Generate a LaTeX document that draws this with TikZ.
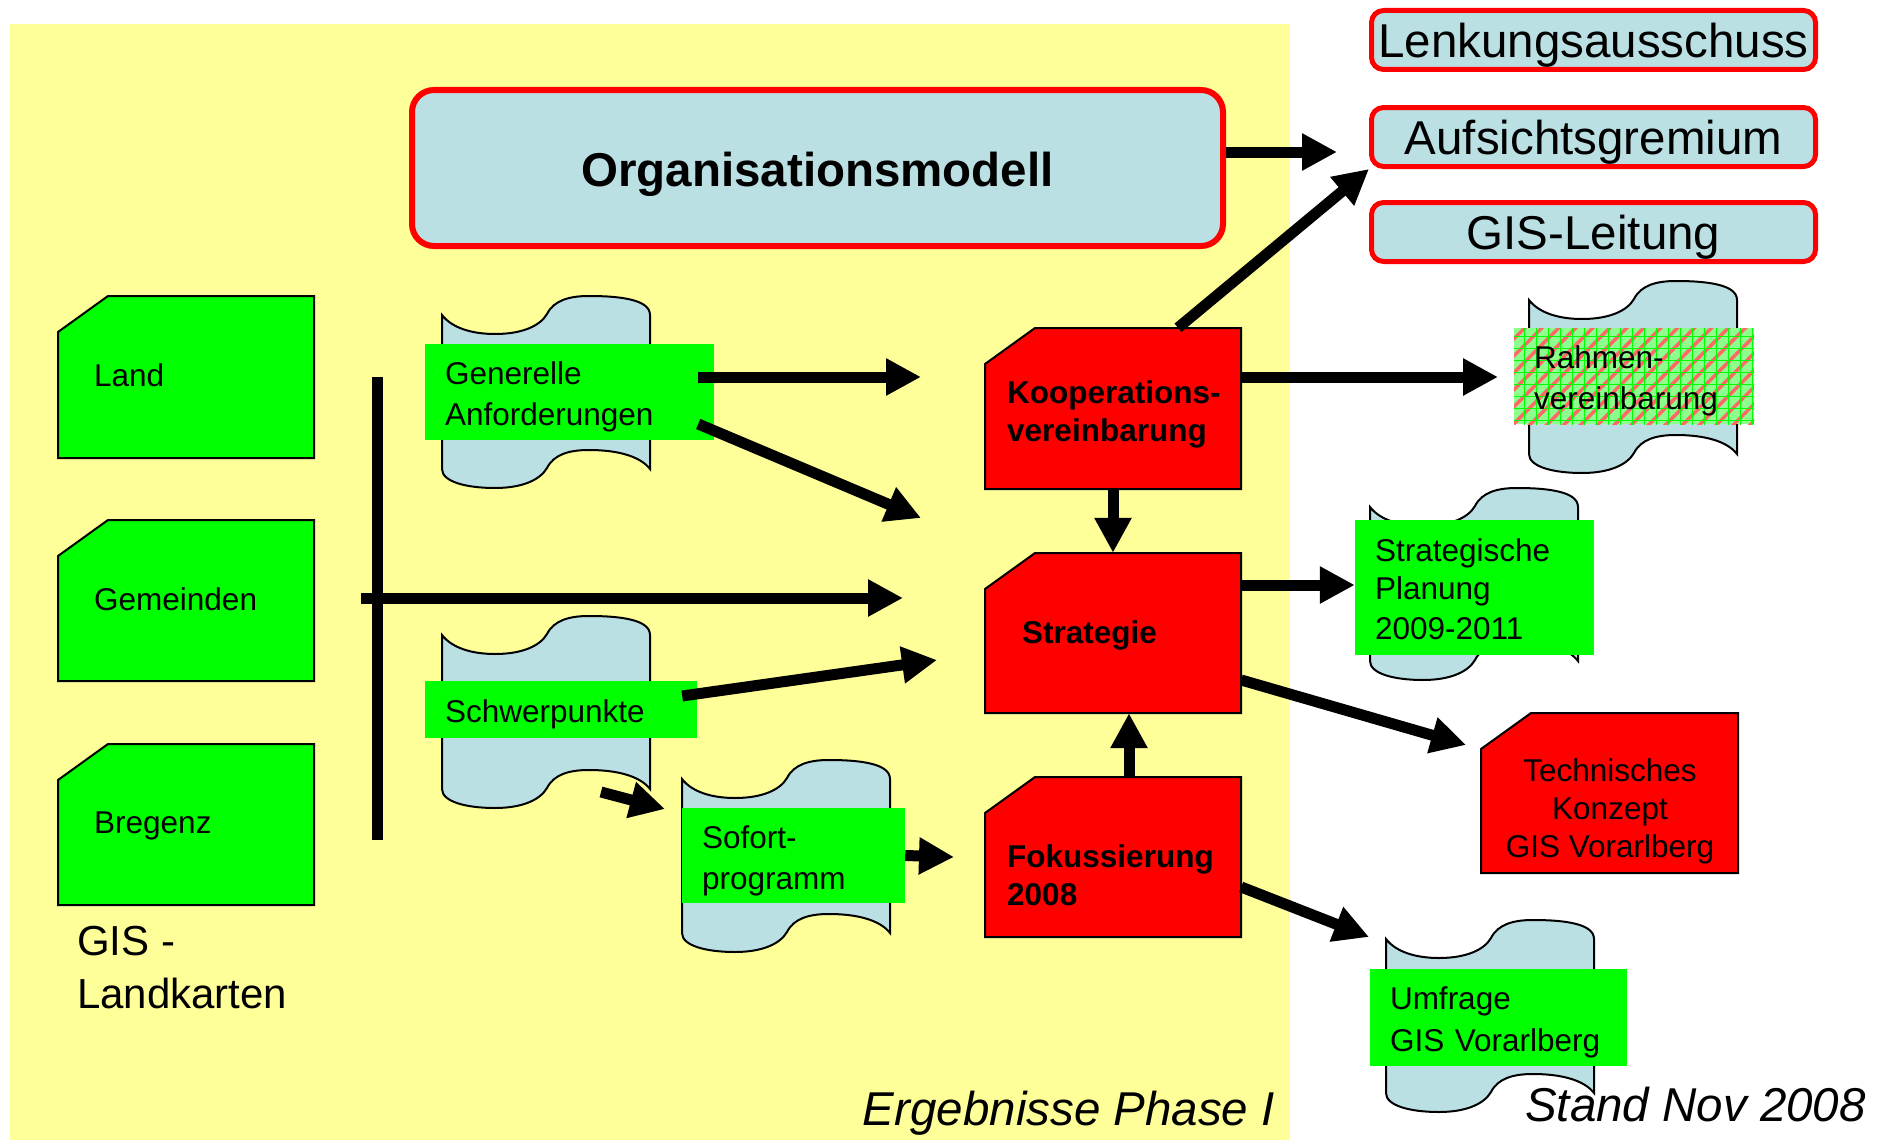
\documentclass[tikz,border=0pt]{standalone}
\usepackage{fontspec}
\setmainfont{Liberation Sans}
\usetikzlibrary{arrows.meta,calc,patterns.meta}

\definecolor{hellgelb}{RGB}{255,255,153}
\definecolor{hellblau}{RGB}{187,224,227}
\definecolor{gruen}{RGB}{0,255,0}
\definecolor{hellgruen}{RGB}{140,255,140}
\definecolor{rot}{RGB}{255,0,0}

\newcommand{\klein}{\fontsize{31.5}{38}\selectfont}
\newcommand{\gross}{\fontsize{47.5}{57}\selectfont}
%Stuetzen
\newcommand{\ps}{\rule[-6.6pt]{0pt}{39.6pt}}
\newcommand{\pg}{\rule{0pt}{44pt}}
%Ecke abgeschnitten
\newcommand{\ecke}[6]{\filldraw[fill=#6,draw=black,line width=2pt] (#2,#5) -- (#2,#3+36) -- (#2+50,#3) -- (#4,#3) -- (#4,#5) -- cycle;
  \node[inner sep=0pt,minimum width=#4-#2,minimum height=#5-#3] (#1) at ({(#2+#4)/2},{(#3+#5)/2}) {};}

\tikzset{
  pfeil/.style={line width=11pt,-{Triangle[length=35pt,width=35pt]}},
  gremium/.style={draw=rot,line width=5pt,fill=hellblau,rounded corners=12pt,inner sep=0pt,minimum width=444pt,minimum height=59pt,font=\gross},
  etikett/.style={fill=gruen,inner ysep=0pt,inner xsep=20pt,align=left,font=\klein},
  schrift/.style={anchor=north west,inner sep=0pt,align=left,font=\klein},
  band/.pic={\filldraw[fill=hellblau,draw=black,line width=2pt]
    (0,19) .. controls (10,32) and (30,38) .. (53,38)
    .. controls (80,38) and (98,30) .. (105,18)
    .. controls (112,4) and (128,0) .. (147,0)
    .. controls (180,0) and (208,4) .. (208,19) -- (208,173)
    .. controls (198,160) and (175,154) .. (147,154)
    .. controls (128,154) and (112,158) .. (105,172)
    .. controls (98,184) and (80,192) .. (53,192)
    .. controls (25,192) and (0,186) .. (0,173) -- cycle;}
}

\begin{document}
\begin{tikzpicture}[x=1pt,y=-1pt]
\useasboundingbox (0,0) rectangle (1888,1140);
%Hintergrund
\fill[white] (0,0) rectangle (1888,1140);
\fill[hellgelb] (10,24) rectangle (1290,1140);
%Baender
\pic at (442,296) {band};
\pic at (442,616) {band};
\pic at (682,760) {band};
\pic at (1529,281) {band};
\pic at (1370,488) {band};
\pic at (1386,920) {band};
%Kaesten
\ecke{land}{58}{296}{314}{458}{gruen}
\ecke{gem}{58}{520}{314}{681}{gruen}
\ecke{breg}{58}{744}{314}{905}{gruen}
\ecke{koop}{985}{328}{1241}{489}{rot}
\ecke{strat}{985}{553}{1241}{713}{rot}
\ecke{fok}{985}{777}{1241}{937}{rot}
\ecke{tech}{1481}{713}{1738}{873}{rot}
\node[schrift] (landT) at (94,363) {Land};
\node[schrift] (gemT) at (94,587) {Gemeinden};
\node[schrift] (bregT) at (94,812) {Bregenz};
\node[schrift,font=\klein\bfseries] (koopT) at (1007,380) {Kooperations-\\vereinbarung};
\node[schrift,font=\klein\bfseries] (stratT) at (1022,620) {Strategie};
\node[schrift,font=\klein\bfseries] (fokT) at (1007,844) {Fokussierung\\2008};
\node[schrift,anchor=north,align=center] (techT) at (1610,758) {Technisches\\Konzept\\GIS Vorarlberg};
%Etiketten
\node[etikett,text width=249pt,minimum height=96pt] (gen) at (569.5,392) {\ps Generelle\\Anforderungen\ps};
\node[etikett,text width=232pt,minimum height=57pt] (schw) at (561,709.5) {\ps Schwerpunkte\ps};
\node[etikett,text width=183pt,minimum height=95pt] (sof) at (793.5,855.5) {\ps Sofort-\\programm\ps};
\node[etikett,text width=199pt,minimum height=135pt] (plan) at (1474.5,587.5) {\ps Strategische\\Planung\\2009-2011\ps};
\node[etikett,text width=217pt,minimum height=97pt,font=\fontsize{31.5}{42}\selectfont] (umf) at (1498.5,1017.5) {\ps Umfrage\\GIS Vorarlberg\ps};
\node[etikett,fill=hellgruen,text width=200pt,minimum height=96pt,
  postaction={pattern={Lines[angle=45,distance=12pt,line width=3.5pt]},pattern color=rot!60},
  postaction={pattern={Hatch[angle=0,distance=12pt,line width=0.8pt]},pattern color=gruen}] (rahmen) at (1634,376) {\ps Rahmen-\\vereinbarung\ps};
%Gremien
\node[draw=rot,line width=6pt,fill=hellblau,rounded corners=22pt,minimum width=811pt,minimum height=156pt,font=\gross\bfseries] (org) at (817.5,168) {\rule{0pt}{47pt}Organisationsmodell};
\node[gremium] (lenk) at (1593.5,40) {\pg Lenkungsausschuss};
\node[gremium] (aufs) at (1593.5,137) {\pg Aufsichtsgremium};
\node[gremium] (gisl) at (1593.5,232) {\pg GIS-Leitung};
%Linien
\coordinate (bo) at (377,377);
\coordinate (bu) at (377,840);
\coordinate (bl) at (361,598);
\draw[line width=11pt] (bo) -- (bu);
%Pfeile
\coordinate (e1) at (921,377);
\coordinate (e2) at (921,518);
\coordinate (e3) at (903,598);
\coordinate (e4) at (937,660);
\coordinate (s1) at (601,792);
\coordinate (e5) at (665,809);
\coordinate (e6) at (954,857);
\coordinate (e7) at (1466,745);
\coordinate (e8) at (1369,937);
\coordinate (e9) at (1498,377);
\coordinate (e10) at (1337,152);
\draw[pfeil] ($(gen.east)+(-16,-15)$) -- (e1);
\draw[pfeil] ($(gen.east)+(-16,32)$) -- (e2);
\draw[pfeil] (bl) -- (e3);
\draw[pfeil] ($(schw.east)+(-15,-13.5)$) -- (e4);
\draw[pfeil] (s1) -- (e5);
\draw[pfeil] (sof.east) -- (e6);
\draw[pfeil] (koop.south) -- (strat.north);
\draw[pfeil] ($(fok.north)+(16,0)$) -- ($(strat.south)+(16,0)$);
\draw[pfeil] ($(strat.east)+(0,-48)$) -- ($(plan.west)+(0,-2.5)$);
\draw[pfeil] ($(strat.east)+(0,47)$) -- (e7);
\draw[pfeil] ($(fok.east)+(0,30)$) -- (e8);
\draw[pfeil] ($(koop.east)+(0,-31.5)$) -- (e9);
\draw[pfeil] ($(koop.north)+(65,0)$) -- (aufs.south west);
\draw[pfeil] ($(org.east)+(0,-16)$) -- (e10);
%Text
\node[anchor=west,align=left,inner sep=0pt,font=\fontsize{42}{53}\selectfont] (karte) at (77,968) {GIS -\\Landkarten};
\node[anchor=base east,inner sep=0pt,font=\gross\itshape] (phase) at (1275,1125) {Ergebnisse Phase I};
\node[anchor=base east,inner sep=0pt,font=\gross\itshape] (stand) at (1866,1121) {Stand Nov 2008};
\end{tikzpicture}
\end{document}
